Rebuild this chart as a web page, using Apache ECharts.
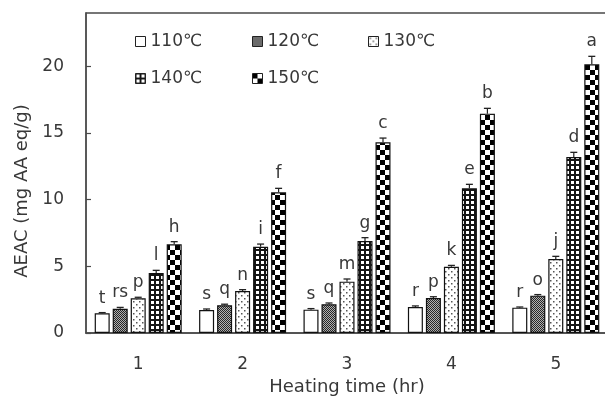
<!DOCTYPE html>
<html>
<head>
<meta charset="utf-8">
<script src="https://cdn.jsdelivr.net/npm/echarts@6/dist/echarts.min.js"></script>
<style>
html,body{margin:0;padding:0;background:#fff;}
#c{width:605px;height:396px;}
</style>
</head>
<body>
<div id="c"></div>
<script>
// ---- data ----
const categories = ['1', '2', '3', '4', '5'];
const seriesNames = ['110℃', '120℃', '130℃', '140℃', '150℃'];
const v110 = [1.48, 1.72, 1.75, 1.95, 1.90];
const v120 = [1.82, 2.08, 2.15, 2.62, 2.80];
const v130 = [2.60, 3.15, 3.85, 4.97, 5.55];
const v140 = [4.50, 6.47, 6.90, 10.85, 13.20];
const v150 = [6.65, 10.55, 14.30, 16.45, 20.15];
const e110 = [0.05, 0.08, 0.08, 0.08, 0.05];
const e120 = [0.10, 0.08, 0.10, 0.10, 0.08];
const e130 = [0.08, 0.10, 0.20, 0.10, 0.20];
const e140 = [0.20, 0.20, 0.25, 0.30, 0.35];
const e150 = [0.20, 0.30, 0.32, 0.40, 0.60];
const l110 = ['t', 's', 's', 'r', 'r'];
const l120 = ['rs', 'q', 'q', 'p', 'o'];
const l130 = ['p', 'n', 'm', 'k', 'j'];
const l140 = ['l', 'i', 'g', 'e', 'd'];
const l150 = ['h', 'f', 'c', 'b', 'a'];
const yTicks = [0, 5, 10, 15, 20];

const values = [v110, v120, v130, v140, v150];
const errors = [e110, e120, e130, e140, e150];
const letters = [l110, l120, l130, l140, l150];

// ---- patterns ----
function pat(w, h, draw) {
  const c = document.createElement('canvas');
  c.width = w; c.height = h;
  const g = c.getContext('2d');
  draw(g);
  return { image: c, repeat: 'repeat' };
}
const fills = [
  '#ffffff',
  pat(2, 2, g => { g.fillStyle = '#b0b0b0'; g.fillRect(0, 0, 2, 2); g.fillStyle = '#262626'; g.fillRect(0, 0, 1, 1); g.fillRect(1, 1, 1, 1); }),
  pat(6, 6, g => { g.fillStyle = '#fff'; g.fillRect(0, 0, 6, 6); g.fillStyle = '#555'; g.fillRect(1, 1, 1.5, 1.5); g.fillRect(4, 4, 1.5, 1.5); }),
  pat(5, 5, g => { g.fillStyle = '#151515'; g.fillRect(0, 0, 5, 5); g.fillStyle = '#fff'; g.fillRect(1, 1, 3, 3); }),
  pat(10, 10, g => { g.fillStyle = '#fff'; g.fillRect(0, 0, 10, 10); g.fillStyle = '#000'; g.fillRect(0, 0, 5, 5); g.fillRect(5, 5, 5, 5); })
];

const FONT = 'DejaVu Sans';
const TXT = '#383838';
const BAR_W = 15;
const BAR_STEP = 18; // bar width + gap (barGap 20%)

const series = [];
for (let i = 0; i < 5; i++) {
  series.push({
    name: seriesNames[i],
    type: 'bar',
    data: values[i],
    barWidth: BAR_W,
    barGap: '20%',
    itemStyle: { color: fills[i], borderColor: '#111', borderWidth: 1.2 },
    emphasis: { disabled: true },
    z: 2
  });
}
for (let i = 0; i < 5; i++) {
  const idx = i;
  series.push({
    name: 'err' + i,
    type: 'custom',
    data: values[i].map((v, k) => [k, v, errors[i][k]]),
    z: 3,
    renderItem: function (params, api) {
      const k = api.value(0);
      const v = api.value(1);
      const e = api.value(2);
      const p0 = api.coord([k, v]);
      const p1 = api.coord([k, v + e]);
      const x = p0[0] + (idx - 2) * BAR_STEP;
      const cap = 3.5;
      return {
        type: 'group',
        children: [
          { type: 'line', shape: { x1: x, y1: p0[1], x2: x, y2: p1[1] }, style: { stroke: '#222', lineWidth: 1.2 } },
          { type: 'line', shape: { x1: x - cap, y1: p1[1], x2: x + cap, y2: p1[1] }, style: { stroke: '#222', lineWidth: 1.3 } },
          { type: 'text', x: x, y: p1[1] - 6, style: { text: letters[idx][params.dataIndex], fill: TXT, font: '17px ' + FONT, align: 'center', verticalAlign: 'bottom' } }
        ]
      };
    }
  });
}

const legendPos = [[135, 33], [252, 33], [368, 33], [135, 70], [252, 70]];
const legends = seriesNames.map((n, i) => ({
  data: [n],
  left: legendPos[i][0],
  top: legendPos[i][1],
  padding: 0,
  itemWidth: 10,
  itemHeight: 10,
  selectedMode: false,
  icon: 'rect',
  itemStyle: { borderColor: '#222', borderWidth: 1 },
  textStyle: { fontFamily: FONT, fontSize: 17, color: TXT }
}));

const chart = echarts.init(document.getElementById('c'), null, { renderer: 'canvas' });
chart.setOption({
  animation: false,
  backgroundColor: '#fff',
  grid: { left: 86, right: -3, top: 13, bottom: 63, outerBoundsMode: 'none', containLabel: false, show: true, borderColor: '#4a4a4a', borderWidth: 1.3, backgroundColor: 'transparent' },
  legend: legends,
  xAxis: {
    type: 'category',
    data: categories,
    name: 'Heating time (hr)',
    nameLocation: 'middle',
    nameGap: 44,
    nameTextStyle: { fontFamily: FONT, fontSize: 18, color: TXT },
    axisLine: { lineStyle: { color: '#4a4a4a', width: 1.5 } },
    axisTick: { inside: true, length: 4, lineStyle: { color: '#4a4a4a', width: 1.2 } },
    axisLabel: { fontFamily: FONT, fontSize: 17, color: TXT, margin: 23 }
  },
  yAxis: {
    type: 'value',
    min: yTicks[0],
    max: 24,
    interval: yTicks[1] - yTicks[0],
    name: 'AEAC (mg AA eq/g)',
    nameLocation: 'middle',
    nameGap: 52,
    nameTextStyle: { fontFamily: FONT, fontSize: 18, color: TXT, padding: [0, 36, 0, 0] },
    axisLine: { show: true, lineStyle: { color: '#4a4a4a', width: 1.5 } },
    axisTick: { show: true, inside: true, length: 5, lineStyle: { color: '#4a4a4a', width: 1.2 } },
    axisLabel: { fontFamily: FONT, fontSize: 17, color: TXT, margin: 22, showMaxLabel: false },
    splitLine: { show: false }
  },
  series: series
});
</script>
</body>
</html>
